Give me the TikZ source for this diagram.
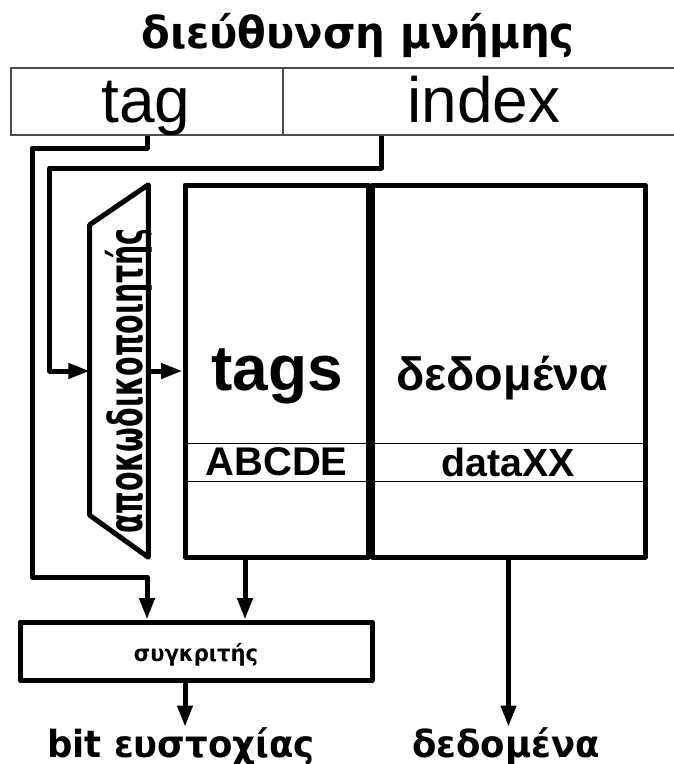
\documentclass[tikz,border=0pt]{standalone}
\usepackage{fontspec}
\setmainfont{Liberation Sans}
\newfontfamily\grfont{DejaVu Sans}
\usetikzlibrary{arrows.meta}

\begin{document}
\begin{tikzpicture}[x=0.75pt,y=-0.75pt,
	wire/.style={line width=3.75pt, line join=round},
	sig/.style={wire, -{Triangle[length=16pt,width=11pt]}},
	blk/.style={draw, line width=3.75pt, line join=round, inner sep=0pt},
	cell/.style={draw, line width=0.75pt, inner sep=0pt, minimum height=28.5pt},
	field/.style={draw=black!70, line width=1.1pt, inner sep=0pt, minimum height=50.25pt},
	lbl/.style={inner sep=0pt, anchor=base}]
	\clip (0,0) rectangle (674,764);
	% address
	\node[lbl, font=\grfont\bfseries\fontsize{33}{38}\selectfont, xscale=0.95] (title) at (358,48) {διεύθυνση μνήμης};
	\node[field, minimum width=204pt] (tagf) at (147,101.5) {};
	\node[field, minimum width=301.5pt] (idxf) at (484,101.5) {};
	\node[lbl, font=\fontsize{48}{56}\selectfont] (tagtxt) at (146,122) {tag};
	\node[lbl, font=\fontsize{48}{56}\selectfont] (idxtxt) at (484,122) {index};
	% decoder
	\node[inner sep=0pt, minimum width=43.5pt, minimum height=279pt] (dec) at (119,371) {};
	\draw[wire] ([yshift=-30pt]dec.north west) -- (dec.north east) -- (dec.south east) -- ([yshift=31.5pt]dec.south west) -- cycle;
	\node[lbl, rotate=90, font=\grfont\bfseries\fontsize{35}{38}\selectfont, xscale=0.61] (dectxt) at (142,381) {αποκωδικοποιητής};
	% cache
	\node[cell, minimum width=137.25pt, font=\bfseries\fontsize{30}{36}\selectfont] (tagrow) at (276.5,462) {ABCDE};
	\node[cell, minimum width=204.75pt, font=\bfseries\fontsize{29.5}{36}\selectfont] (datarow) at (508.5,462) {dataXX};
	\node[blk, minimum width=137.25pt, minimum height=279pt] (tagcol) at (276.5,371) {};
	\node[blk, minimum width=204.75pt, minimum height=279pt] (datacol) at (508.5,371) {};
	\node[lbl, font=\bfseries\fontsize{48}{56}\selectfont] (tagshead) at (277,390) {tags};
	\node[lbl, font=\bfseries\fontsize{35}{40}\selectfont] (datahead) at (502,390) {δεδομένα};
	% comparator
	\node[blk, minimum width=264pt, minimum height=43.5pt] (cmp) at (196,651) {};
	\node[lbl, font=\grfont\bfseries\fontsize{17}{20}\selectfont, xscale=0.93] (cmptxt) at (196,661) {συγκριτής};
	\node[lbl, font=\grfont\bfseries\fontsize{28}{32}\selectfont, xscale=0.95] (hit) at (181,757) {bit ευστοχίας};
	\node[lbl, font=\grfont\bfseries\fontsize{28}{32}\selectfont, xscale=0.95] (dataout) at (506,757) {δεδομένα};
	% wires
	\draw[sig] (idxf.south -| 381,0) -- (381,168) -| ([xshift=-30pt]dec.west) -- (dec.west);
	\draw[sig] (tagf.south) -- (147,148) -| (32,577) -| (cmp.north -| 147,0);
	\draw[sig] (dec.east) -- (tagcol.west |- dec.east);
	\draw[sig] (tagcol.south -| 245,0) -- (cmp.north -| 245,0);
	\draw[sig] (cmp.south -| 185,0) -- (hit.north -| 185,0);
	\draw[sig] (datacol.south) -- (dataout.north -| datacol.south);
\end{tikzpicture}
\end{document}
